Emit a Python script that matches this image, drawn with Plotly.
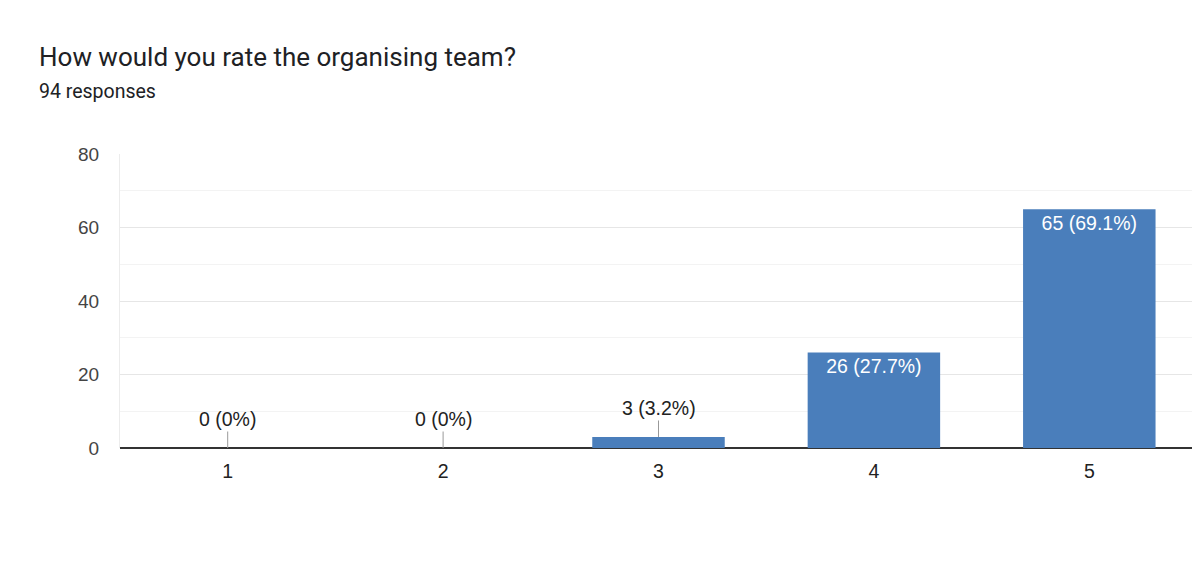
import plotly.graph_objects as go

categories = ["1", "2", "3", "4", "5"]
counts = [0, 0, 3, 26, 65]
pct_labels = ["0%", "0%", "3.2%", "27.7%", "69.1%"]
total_responses = 94
title_text = "How would you rate the organising team?"
y_ticks = [0, 20, 40, 60, 80]

labels = [f"{c} ({p})" for c, p in zip(counts, pct_labels)]
inside_threshold = 10
bar_text = [lab if c >= inside_threshold else "" for lab, c in zip(labels, counts)]

BAR_COLOR = "#4a7ebb"
CHART_FONT = "Liberation Sans, Arial, sans-serif"
TITLE_FONT = "Roboto, sans-serif"

fig = go.Figure()
fig.add_trace(go.Bar(
    x=categories,
    y=counts,
    marker=dict(color=BAR_COLOR, line=dict(width=0)),
    text=bar_text,
    textposition="inside",
    insidetextanchor="end",
    textangle=0,
    constraintext="none",
    insidetextfont=dict(color="white", size=19.5, family=CHART_FONT),
    hoverinfo="skip",
))

# annotations on the category axis use the category index as coordinate
for idx, (c, lab) in enumerate(zip(counts, labels)):
    if c < inside_threshold:
        fig.add_annotation(
            x=idx, y=c, xref="x", yref="y",
            text=lab, showarrow=True, arrowhead=0, arrowwidth=1,
            arrowcolor="#999999", ax=0, ay=-29, standoff=0,
            font=dict(size=19.5, color="#222222", family=CHART_FONT),
        )

# page body has an 8px margin: figure is sized/margined to compensate
PLOT_LEFT, PLOT_H, PLOT_W = 120, 294, 1077
fig.add_annotation(
    text=title_text, xref="paper", yref="paper",
    x=(37 - PLOT_LEFT) / PLOT_W, y=(448 - 57) / PLOT_H,
    xanchor="left", yanchor="middle", showarrow=False,
    font=dict(size=26, color="#202124", family=TITLE_FONT),
)
fig.add_annotation(
    text=f"{total_responses} responses", xref="paper", yref="paper",
    x=(37 - PLOT_LEFT) / PLOT_W, y=(448 - 91) / PLOT_H,
    xanchor="left", yanchor="middle", showarrow=False,
    font=dict(size=19.5, color="#202124", family=TITLE_FONT),
)

fig.update_layout(
    width=1192, height=562,
    margin=dict(l=112, r=3, t=146, b=122, pad=0),
    paper_bgcolor="white", plot_bgcolor="white",
    bargap=0.385,
    showlegend=False,
    xaxis=dict(
        type="category",
        showgrid=False, showline=False, ticks="",
        tickfont=dict(size=19.5, color="#222222", family=CHART_FONT),
        ticklabelstandoff=9,
        fixedrange=True,
    ),
    yaxis=dict(
        range=[0, 80],
        tickvals=y_ticks,
        showgrid=True, gridcolor="#e6e6e6", gridwidth=1,
        minor=dict(dtick=10, showgrid=True, gridcolor="#f3f3f3", gridwidth=1),
        zeroline=True, zerolinecolor="#333333", zerolinewidth=2,
        showline=True, mirror=True, linecolor="#ececec", linewidth=1,
        ticks="", ticklabelstandoff=16,
        tickfont=dict(size=19, color="#444444", family=CHART_FONT),
        fixedrange=True,
    ),
)

fig.write_html("out.html")
